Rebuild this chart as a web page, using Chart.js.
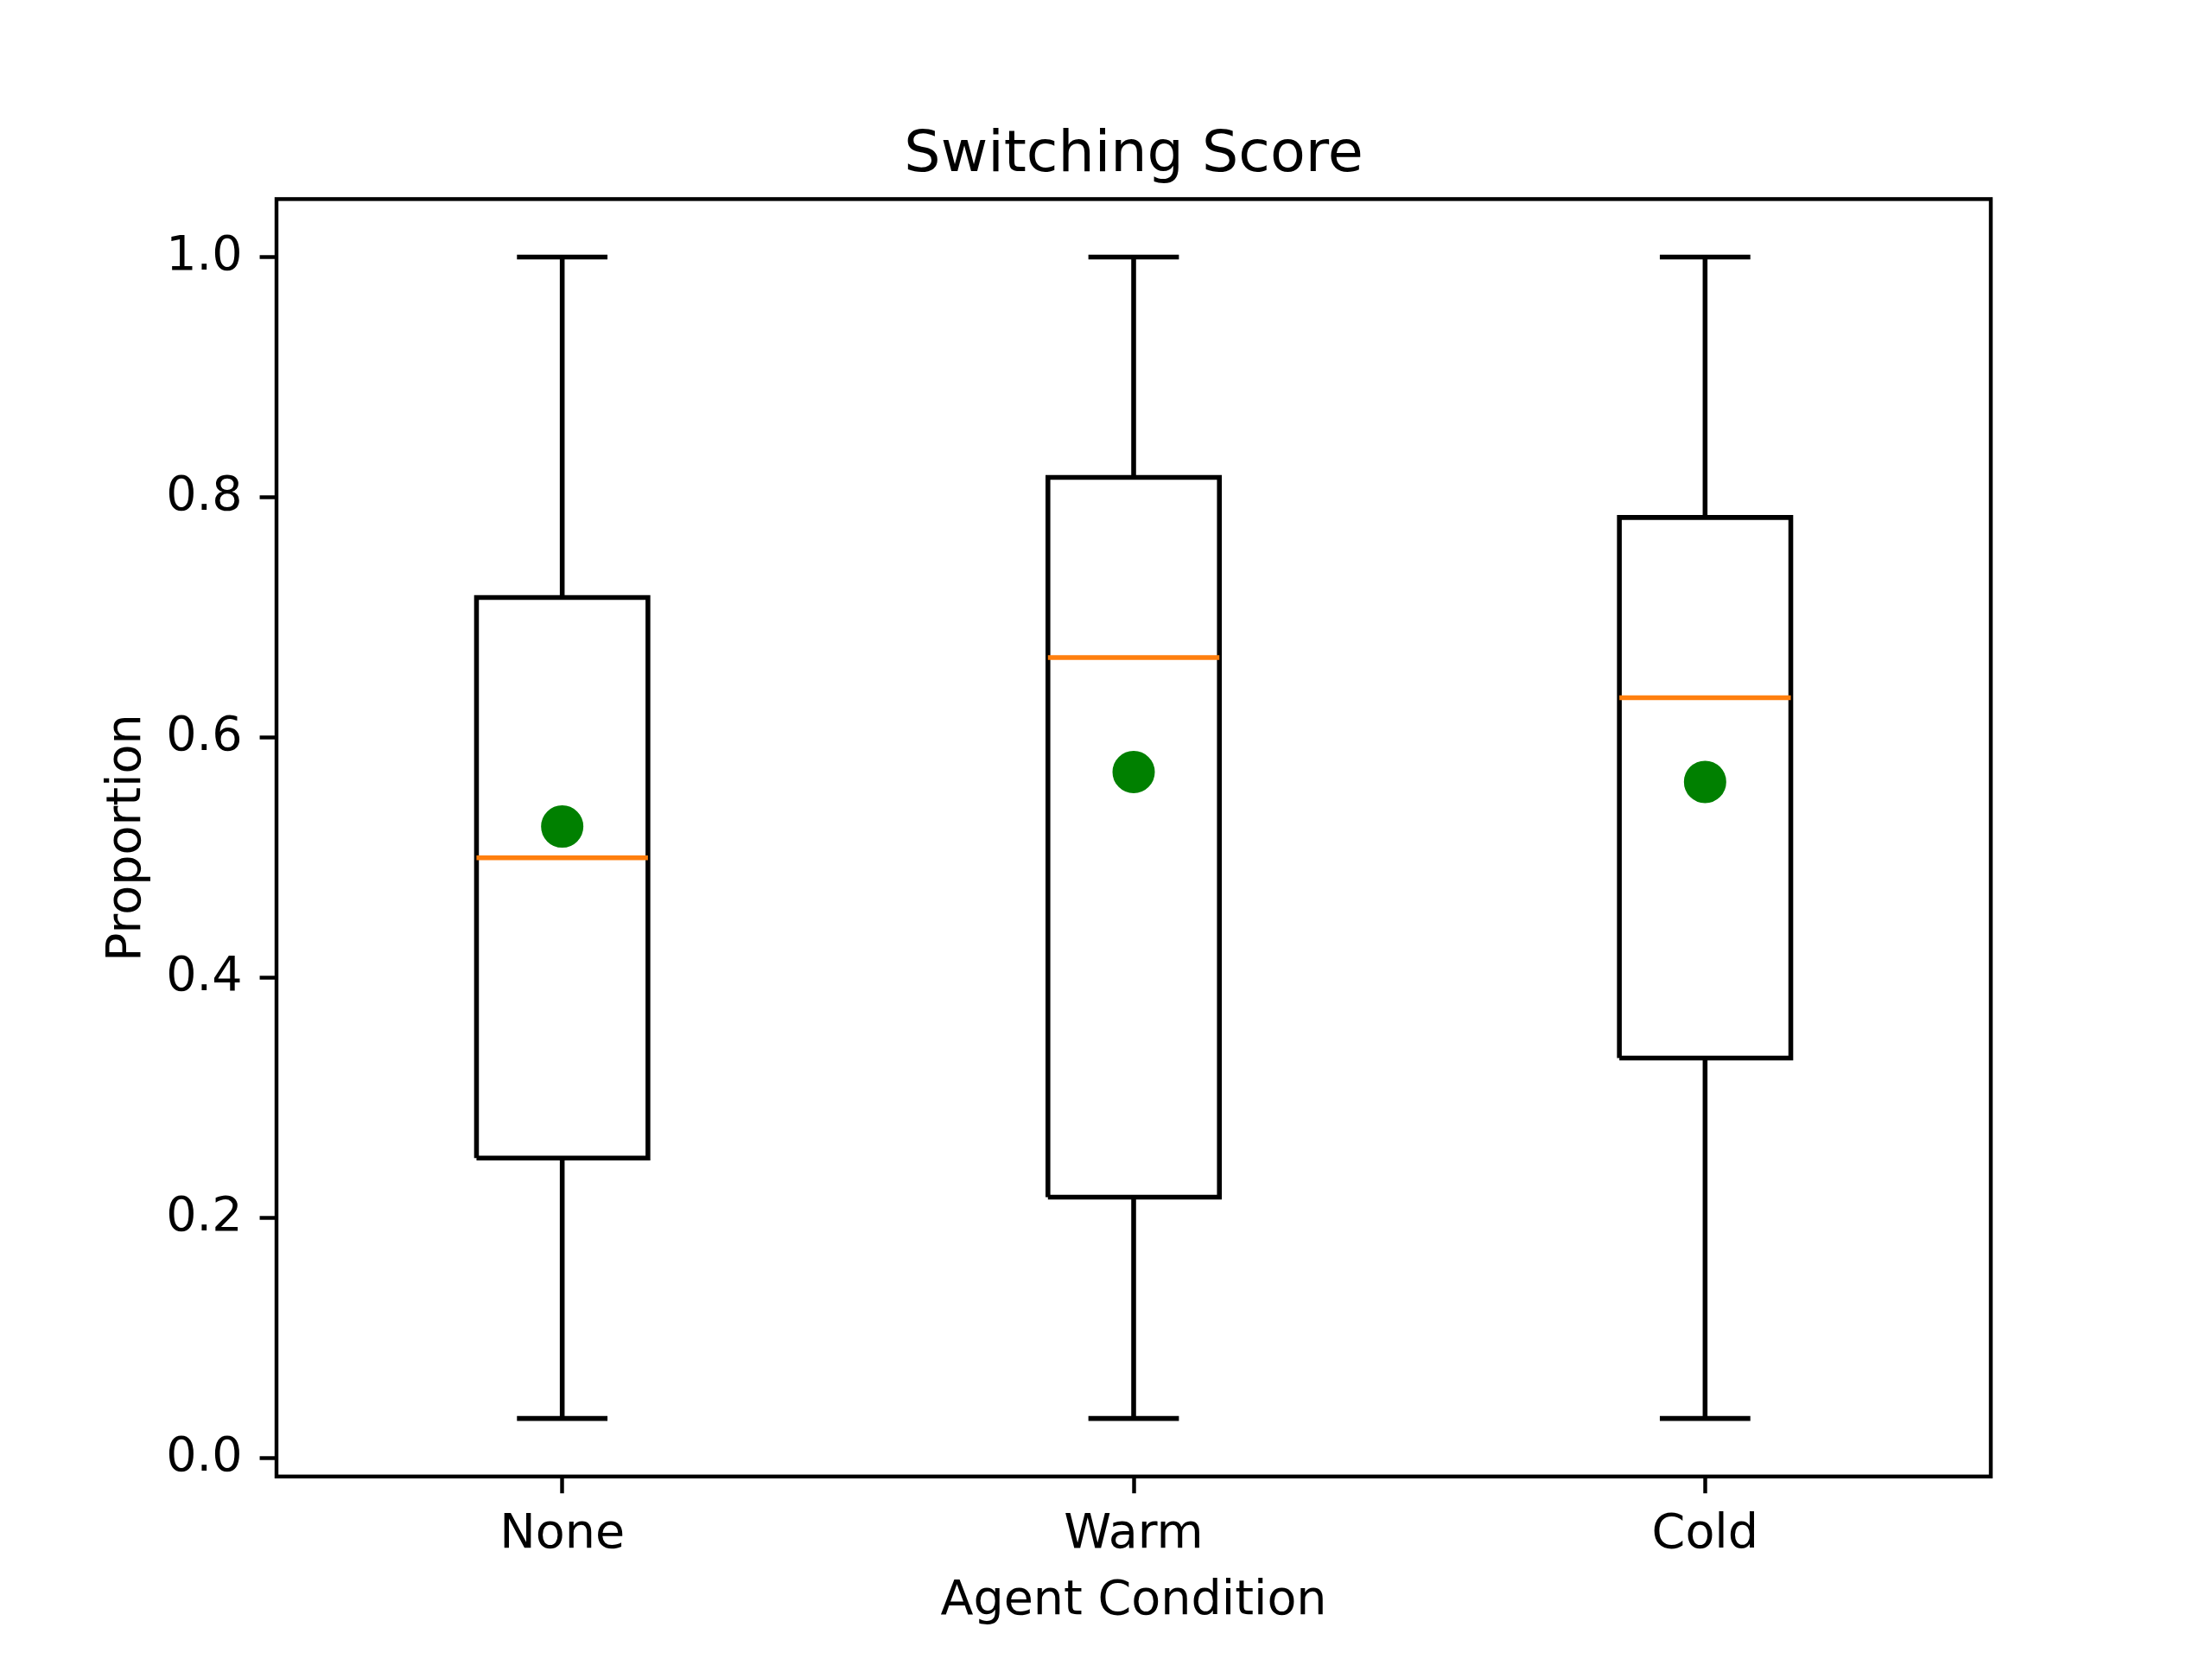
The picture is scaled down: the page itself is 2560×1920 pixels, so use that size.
<!DOCTYPE html>
<html>
<head>
<meta charset="utf-8">
<title>Switching Score</title>
<script src="https://cdn.jsdelivr.net/npm/chart.js@4.4.1/dist/chart.umd.min.js"></script>
<style>
  html, body { margin: 0; padding: 0; background: #ffffff; }
  #chart { display: block; width: 2560px; height: 1920px; }
</style>
</head>
<body>
<canvas id="chart" width="2560" height="1920"></canvas>
<script>
// --- data ---
const categories  = ['None', 'Warm', 'Cold'];
const positions   = [1, 2, 3];
const whiskerLow  = [0.0333, 0.0333, 0.0333];
const q1          = [0.25, 0.2175, 0.3333];
const medians     = [0.5, 0.6667, 0.6333];
const q3          = [0.7167, 0.8167, 0.7833];
const whiskerHigh = [1.0, 1.0, 1.0];
const means       = [0.526, 0.5714, 0.5632];
const yTicks      = [0.0, 0.2, 0.4, 0.6, 0.8, 1.0];

// --- style (matplotlib look at 400 dpi) ---
const PT = 400 / 72;           // px per point
const LINE_W = 1.0 * PT;       // box / whisker lines
const SPINE_W = 0.8 * PT;
const TICK_LEN = 3.5 * PT;
const FONT = 'DejaVu Sans';
const BOX_W = 0.3;             // box width in x units
const CAP_W = BOX_W / 2;

const datasets = [];

// means (drawn on top)
datasets.push({
    label: 'mean',
    data: positions.map((p, i) => ({ x: p, y: means[i] })),
    showLine: false,
    pointRadius: 8 * PT / 2 - 0.5,
    pointBorderWidth: LINE_W,
    backgroundColor: '#008000',
    borderColor: '#008000',
    order: 0
});

positions.forEach((p, i) => {
    const l = p - BOX_W / 2, r = p + BOX_W / 2;
    const cl = p - CAP_W / 2, cr = p + CAP_W / 2;

    // median
    datasets.push({
        data: [{ x: l, y: medians[i] }, { x: r, y: medians[i] }],
        borderColor: '#ff7f0e', borderWidth: LINE_W, borderCapStyle: 'butt', order: 1
    });
    // box
    datasets.push({
        data: [
            { x: l, y: q1[i] }, { x: r, y: q1[i] }, { x: r, y: q3[i] },
            { x: l, y: q3[i] }, { x: l, y: q1[i] }
        ],
        borderColor: '#000', borderWidth: LINE_W, borderJoinStyle: 'miter', order: 2
    });
    // whiskers
    datasets.push({
        data: [{ x: p, y: q1[i] }, { x: p, y: whiskerLow[i] }],
        borderColor: '#000', borderWidth: LINE_W, order: 3
    });
    datasets.push({
        data: [{ x: p, y: q3[i] }, { x: p, y: whiskerHigh[i] }],
        borderColor: '#000', borderWidth: LINE_W, order: 3
    });
    // caps
    datasets.push({
        data: [{ x: cl, y: whiskerLow[i] }, { x: cr, y: whiskerLow[i] }],
        borderColor: '#000', borderWidth: LINE_W, borderCapStyle: 'square', order: 3
    });
    datasets.push({
        data: [{ x: cl, y: whiskerHigh[i] }, { x: cr, y: whiskerHigh[i] }],
        borderColor: '#000', borderWidth: LINE_W, borderCapStyle: 'square', order: 3
    });
});

datasets.forEach(d => {
    if (d.showLine === undefined) d.showLine = true;
    if (d.pointRadius === undefined) d.pointRadius = 0;
    d.fill = false;
    d.tension = 0;
});

// full axes frame, like matplotlib spines
const framePlugin = {
    id: 'frame',
    afterDraw(chart) {
        const { ctx, chartArea: a } = chart;
        ctx.save();
        ctx.strokeStyle = '#000';
        ctx.lineWidth = SPINE_W;
        ctx.strokeRect(a.left, a.top, a.right - a.left, a.bottom - a.top);
        ctx.restore();
    }
};

const yMin = -0.015, yMax = 1.0483;
const tickGrid = {
    display: true, drawOnChartArea: false, drawTicks: true,
    tickLength: TICK_LEN, tickWidth: SPINE_W, tickColor: '#000'
};

new Chart(document.getElementById('chart'), {
    type: 'scatter',
    data: { datasets },
    plugins: [framePlugin],
    options: {
        responsive: false,
        devicePixelRatio: 1,
        animation: false,
        events: [],
        layout: { padding: { left: 0, right: 256, top: 0, bottom: 0 } },
        plugins: {
            legend: { display: false },
            tooltip: { enabled: false },
            title: { display: false }
        },
        scales: {
            // top axis only carries the title, so it centres over the plot area
            top: {
                type: 'linear',
                axis: 'x',
                position: 'top',
                min: 0.5,
                max: 3.5,
                afterFit: s => { s.height = 230.4; },
                ticks: { display: false },
                grid: { display: false },
                border: { display: false },
                title: {
                    display: true, text: 'Switching Score', color: '#000',
                    font: { family: FONT, size: 12 * PT, lineHeight: 1.2 },
                    padding: { top: 141, bottom: 0 }
                }
            },
            x: {
                type: 'linear',
                min: 0.5,
                max: 3.5,
                afterFit: s => { s.height = 1920 - 1708.8; },
                afterBuildTicks: s => { s.ticks = positions.map(v => ({ value: v })); },
                ticks: {
                    color: '#000',
                    font: { family: FONT, size: 10 * PT },
                    padding: 14.5,
                    maxRotation: 0,
                    autoSkip: false,
                    callback: v => categories[positions.indexOf(v)]
                },
                grid: tickGrid,
                border: { display: false },
                title: {
                    display: true, text: 'Agent Condition', color: '#000',
                    font: { family: FONT, size: 10 * PT, lineHeight: 1.2 },
                    padding: { top: 0, bottom: 33 }
                }
            },
            y: {
                type: 'linear',
                min: yMin,
                max: yMax,
                afterFit: s => { s.width = 320; },
                afterBuildTicks: s => { s.ticks = yTicks.map(v => ({ value: v })); },
                ticks: {
                    color: '#000',
                    font: { family: FONT, size: 10 * PT },
                    padding: 20,
                    callback: v => Number(v).toFixed(1)
                },
                grid: tickGrid,
                border: { display: false },
                title: {
                    display: true, text: 'Proportion', color: '#000',
                    font: { family: FONT, size: 10 * PT, lineHeight: 1.2 },
                    padding: { top: 114.6, bottom: 114.6 }
                }
            }
        }
    }
});
</script>
</body>
</html>
